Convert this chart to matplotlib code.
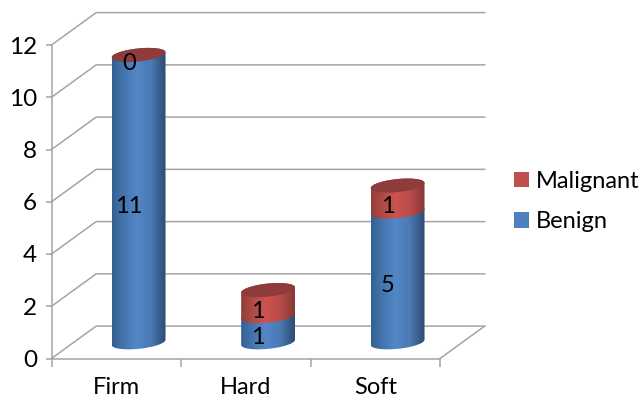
import matplotlib
matplotlib.use('Agg')
import matplotlib.pyplot as plt
from matplotlib.colors import LinearSegmentedColormap
from matplotlib.patches import Patch, Polygon
from matplotlib.path import Path
import numpy as np

categories = ['Firm', 'Hard', 'Soft']
benign = [11, 1, 5]
malignant = [0, 1, 1]
yticks = [0, 2, 4, 6, 8, 10, 12]

GRID = '#a4a4a4'
TEXT = '#000000'

# depth of the 3D box, in category and value units
DEPTH_X = 0.345
DEPTH_V = 1.24
# cylinder shape, in category and value units
RADIUS = 0.208
MINOR = 0.25
TILT = 0.10

blue_cmap = LinearSegmentedColormap.from_list('blue', [
    (0.0, '#33608f'), (0.18, '#4272a9'), (0.45, '#5287c8'),
    (0.72, '#4b7ab4'), (1.0, '#2d4a72')])
red_cmap = LinearSegmentedColormap.from_list('red', [
    (0.0, '#8f3e3b'), (0.18, '#ac4845'), (0.45, '#cc5450'),
    (0.72, '#b94c49'), (1.0, '#873836')])
CAP = '#8e3b39'

plt.rcParams['font.family'] = ['Lato', 'DejaVu Sans']

fig = plt.figure(figsize=(6.43, 4.0), dpi=100)
W, H = 643.0, 400.0
ax = fig.add_axes([51.5 / W, 1 - 358.5 / H, 388.5 / W, 313.5 / H])
ax.patch.set_visible(False)


def ellipse(cx, v, t):
    return cx + RADIUS * np.cos(t), v + TILT * np.cos(t) + MINOR * np.sin(t)


def draw_segment(cx, v0, v1, cmap):
    # side of one cylinder piece, shaded left to right
    xa, va = ellipse(cx, v0, np.linspace(np.pi, 2 * np.pi, 60))
    xb, vb = ellipse(cx, v1, np.linspace(0, np.pi, 60))
    verts = np.column_stack([np.r_[xa, xb], np.r_[va, vb]])
    outline = Path(np.vstack([verts, verts[0]]), closed=True)
    gradient = np.linspace(0, 1, 256).reshape(1, -1)
    img = ax.imshow(gradient, cmap=cmap, aspect='auto', zorder=3,
                    extent=[cx - RADIUS, cx + RADIUS, v0 - 1, v1 + 1])
    img.set_clip_path(outline, transform=ax.transData)


# back wall, side wall and floor
for v in yticks:
    ax.plot([-0.5, -0.5 + DEPTH_X, 2.5 + DEPTH_X],
            [v, v + DEPTH_V, v + DEPTH_V],
            color=GRID, lw=1.1, clip_on=False, zorder=1)
ax.plot([2.5, 2.5 + DEPTH_X], [0, DEPTH_V], color=GRID, lw=1.1, clip_on=False, zorder=1)

# stacked cylinders
for i, name in enumerate(categories):
    cx = i + DEPTH_X / 2
    base = DEPTH_V / 2
    top = base + benign[i] + malignant[i]
    draw_segment(cx, base, base + benign[i], blue_cmap)
    if malignant[i] > 0:
        draw_segment(cx, base + benign[i], top, red_cmap)
    xc, vc = ellipse(cx, top, np.linspace(0, 2 * np.pi, 120))
    ax.add_patch(Polygon(np.column_stack([xc, vc]), closed=True, fc=CAP, ec='none', zorder=4))

    # value labels sit a little left of and below the segment middle
    for mid, value in [(base + benign[i] / 2, benign[i]),
                       (base + benign[i] + malignant[i] / 2, malignant[i])]:
        ax.annotate(str(value), (cx, mid), xytext=(-7, -6), textcoords='offset points',
                    ha='center', va='center', fontsize=17, color=TEXT, zorder=5)

ax.set_xlim(-0.5, 2.5)
ax.set_ylim(0, 12)
ax.set_xticks(range(len(categories)))
ax.set_xticklabels(categories)
ax.set_xticks([-0.5, 0.5, 1.5, 2.5], minor=True)
ax.set_yticks(yticks)
ax.tick_params(axis='x', which='major', length=0, pad=13, labelsize=17, labelcolor=TEXT)
ax.tick_params(axis='x', which='minor', length=6, width=1.1, color=GRID)
ax.tick_params(axis='y', length=4.5, width=1.1, color=GRID, pad=6, labelsize=17.5, labelcolor=TEXT)
for side in ['top', 'right']:
    ax.spines[side].set_visible(False)
for side in ['left', 'bottom']:
    ax.spines[side].set_color(GRID)
    ax.spines[side].set_linewidth(1.1)

handles = [Patch(fc='#c0504d', label='Malignant'), Patch(fc='#4f81bd', label='Benign')]
fig.legend(handles=handles, loc='center left', bbox_to_anchor=(493 / W, 1 - 201.5 / H),
           frameon=False, fontsize=17, labelcolor=TEXT, handlelength=0.63, handleheight=0.63,
           handletextpad=0.3, labelspacing=0.82)

fig.savefig('out.png', dpi=100)
